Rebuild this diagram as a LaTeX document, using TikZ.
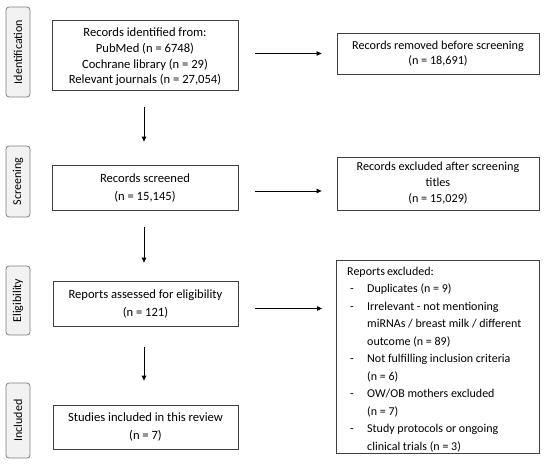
\documentclass[tikz,border=0pt]{standalone}
\usepackage{fontspec}
\setmainfont{Carlito}
\usetikzlibrary{arrows.meta}
\begin{document}
\begin{tikzpicture}[x=1pt,y=-1pt,
  box/.style={draw=black!75, line width=0.8pt, fill=white, inner sep=0pt, align=center, font=\fontsize{12.6}{16}\selectfont},
  phase/.style={draw=black!50, line width=0.8pt, fill=black!5, rounded corners=3pt, inner sep=0pt, font=\fontsize{12}{13}\selectfont},
  arr/.style={-{Triangle[length=5pt,width=4.5pt]}, line width=0.8pt}]
\useasboundingbox (0,0) rectangle (550,471);
% phase labels
\node[phase, minimum width=24pt, minimum height=90pt] (p1) at (18,52) {\rotatebox{90}{Identification}};
\node[phase, minimum width=24pt, minimum height=71pt] (p2) at (18,181.5) {\rotatebox{90}{Screening}};
\node[phase, minimum width=24pt, minimum height=69pt] (p3) at (18,300.5) {\rotatebox{90}{Eligibility}};
\node[phase, minimum width=24pt, minimum height=75pt] (p4) at (18,420.5) {\rotatebox{90}{Included}};
% main boxes
\node[box, minimum width=186pt, minimum height=70pt, font=\fontsize{12.6}{15.7}\selectfont] (b1) at (145,55) {\rule{0pt}{12.5pt}Records identified from:\\PubMed (n = 6748)\\Cochrane library (n = 29)\\Relevant journals (n = 27,054)};
\node[box, minimum width=186pt, minimum height=45pt, font=\fontsize{12.6}{18}\selectfont] (b2) at (145,187.5) {Records screened\\(n = 15,145)};
\node[box, minimum width=185pt, minimum height=45pt, font=\fontsize{12.6}{18}\selectfont] (b3) at (145.5,303.5) {Reports assessed for eligibility\\(n = 121)};
\node[box, minimum width=185pt, minimum height=44pt, font=\fontsize{12.6}{18}\selectfont] (b4) at (145.5,427) {Studies included in this review\\(n = 7)};
% right boxes
\node[box, minimum width=202pt, minimum height=41pt, font=\fontsize{12.2}{15.5}\selectfont] (r1) at (438,53.5) {Records removed before screening\\(n = 18,691)};
\node[box, minimum width=202pt, minimum height=53pt, font=\fontsize{12.2}{16}\selectfont] (r2) at (438,183.5) {Records excluded after screening\\titles\\(n = 15,029)};
\node[box, minimum width=203pt, minimum height=193pt, anchor=north west] (r3) at (336,260) {};
\node[inner sep=0pt, anchor=north west, align=left, font=\fontsize{12}{17.5}\selectfont] (r3t) at ([xshift=11pt,yshift=-6.5pt]r3.north west) {%
\spaceskip=0.18em plus 0.05em minus 0.05em%
Reports excluded:\\
\makebox[20pt][l]{\hspace{3pt}-}Duplicates (n = 9)\\
\makebox[20pt][l]{\hspace{3pt}-}Irrelevant - not mentioning\\
\hspace*{20pt}miRNAs / breast milk / different\\
\hspace*{20pt}outcome (n = 89)\\
\makebox[20pt][l]{\hspace{3pt}-}Not fulfilling inclusion criteria\\
\hspace*{20pt}(n = 6)\\
\makebox[20pt][l]{\hspace{3pt}-}OW/OB mothers excluded\\
\hspace*{20pt}(n = 7)\\
\makebox[20pt][l]{\hspace{3pt}-}Study protocols or ongoing\\
\hspace*{20pt}clinical trials (n = 3)};
% arrows
\draw[arr, shorten <=17pt, shorten >=15pt] (b1.east |- r1.west) -- (r1.west);
\draw[arr, shorten <=17pt, shorten >=15pt] (b2.east |- 0,191) -- (r2.west |- 0,191);
\draw[arr, shorten <=17pt, shorten >=14pt] (b3.east |- 0,308.5) -- (r3.west |- 0,308.5);
\draw[arr, shorten <=17pt, shorten >=23pt] (b1.south -| 144,0) -- (b2.north -| 144,0);
\draw[arr, shorten <=17pt, shorten >=18pt] (b2.south -| 144,0) -- (b3.north -| 144,0);
\draw[arr, shorten <=21pt, shorten >=24pt] (b3.south -| 144,0) -- (b4.north -| 144,0);
\end{tikzpicture}
\end{document}
